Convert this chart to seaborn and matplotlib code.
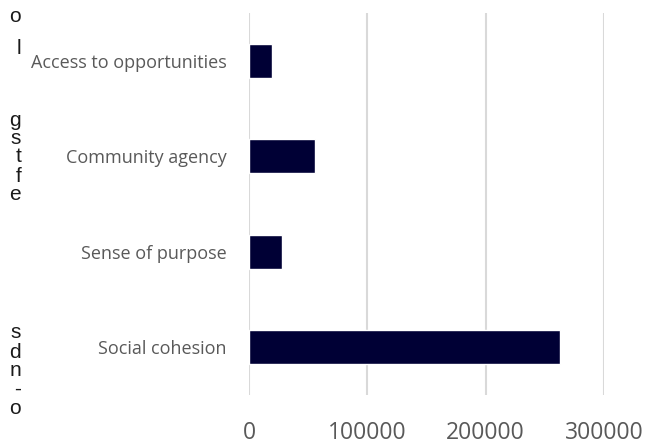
import matplotlib
matplotlib.use("Agg")
import matplotlib.pyplot as plt
import seaborn as sns
import pandas as pd

categories = ["Access to opportunities", "Community agency", "Sense of purpose", "Social cohesion"]
values = [19700, 56000, 27600, 262500]
x_ticks = [0, 100000, 200000, 300000]
x_tick_labels = ["0", "100000", "200000", "300000"]

# clipped fragments of neighbouring page text at the left edge
side_letters = ["o", "l", "g", "s", "t", "f", "e", "s", "d", "n", "-", "o"]
side_y = [17, 49, 121, 139, 157, 176, 194, 333, 352, 370, 389, 408]

df = pd.DataFrame({"category": categories, "value": values})

sns.set_theme(style="white")
plt.rcParams["font.family"] = ["Open Sans", "DejaVu Sans"]

fig = plt.figure(figsize=(6.5, 4.45), dpi=100)
ax = fig.add_axes([249/650, 1 - 395/445, (604-249)/650, (395-13)/445])

sns.barplot(data=df, y="category", x="value", orient="h", color="#000035",
            width=0.36, saturation=1, ax=ax, zorder=3)

ax.set_xlim(0, 300000)
ax.set_ylim(3.5, -0.5)
ax.set_xticks(x_ticks)
ax.set_xticklabels(x_tick_labels)
ax.xaxis.grid(True, color="#d9d9d9", linewidth=1.5, zorder=0)
ax.yaxis.grid(False)
for s in ax.spines.values():
    s.set_visible(False)
ax.set_xlabel("")
ax.set_ylabel("")
ax.tick_params(axis="x", length=0, pad=19, labelsize=16.5, labelcolor="#595959")
ax.tick_params(axis="y", length=0, pad=16, labelsize=13, labelcolor="#595959")

for ch, y in zip(side_letters, side_y):
    fig.text(21/650, 1 - y/445, ch, ha="right", va="center", fontsize=15,
             color="#1a1a1a", family=["Liberation Sans", "DejaVu Sans"])

fig.savefig("out.png", dpi=100)
